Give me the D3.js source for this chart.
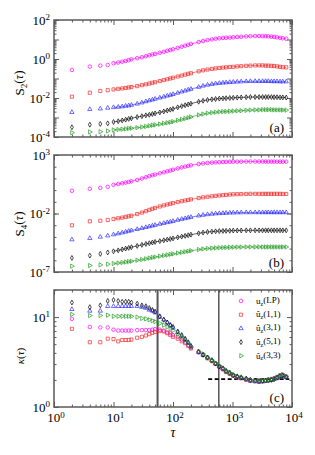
<!DOCTYPE html>
<html><head><meta charset="utf-8">
<script src="https://cdn.jsdelivr.net/npm/d3@7"></script>
<style>
body{margin:0;background:#fff}
svg{display:block}
text{font-family:"Liberation Serif","DejaVu Serif",serif;fill:#000}
</style>
</head><body>
<svg id="chart" width="315" height="455"></svg>
<script>
// ---------- data ----------
const tau = [2,4,6,8,10,12,14,16,18,20,25,30,35,40,45,50,60,70,80,90,100,120,140,160,180,200,
  270,320,380,450,520,600,690,780,900,1030,1200,1400,1700,2000,2400,2800,3200,3600,4000,4500,
  5000,5600,6300,7000,8000];

const seriesNames = ["LP","1,1","3,1","5,1","3,3"];
const seriesHat = [false,true,true,true,true];

// S2(tau)
const s2LP = [0.275,0.407,0.457,0.490,0.603,0.661,0.724,0.794,0.871,0.955,
  1.10,1.23,1.38,1.55,1.70,1.82,2.09,2.34,2.63,2.88,3.16,3.72,4.27,4.79,5.37,5.89,
  7.41,8.32,9.33,10.2,11.0,11.5,12.0,12.3,12.6,12.9,13.5,13.8,14.5,14.8,15.1,15.1,14.8,14.8,14.5,14.1,
  13.5,12.9,12.3,11.5,11.0];
const s2_11 = [0.0117,0.0186,0.0229,0.0251,0.0275,0.0295,0.0309,0.0331,0.0347,0.0363,
  0.0407,0.0457,0.0501,0.0550,0.0603,0.0646,0.0741,0.0832,0.0912,0.100,0.110,0.126,0.141,0.158,0.174,0.186,
  0.234,0.263,0.288,0.309,0.331,0.347,0.363,0.372,0.389,0.398,0.417,0.427,0.447,0.457,0.468,0.468,0.468,0.457,0.457,0.447,
  0.437,0.417,0.398,0.380,0.372];
const s2_31 = [0.00186,0.00263,0.00282,0.00309,0.00331,0.00347,0.00363,0.00389,0.00407,0.00437,
  0.00501,0.00575,0.00661,0.00741,0.00813,0.00891,0.0102,0.0115,0.0129,0.0141,0.0155,0.0182,0.0209,0.0234,0.0263,0.0288,
  0.0363,0.0417,0.0468,0.0513,0.0550,0.0575,0.0603,0.0617,0.0646,0.0661,0.0676,0.0692,0.0708,0.0724,0.0724,0.0724,0.0724,0.0724,0.0724,0.0708,
  0.0708,0.0708,0.0692,0.0692,0.0692];
const s2_51 = [3.16e-4,4.27e-4,4.68e-4,5.01e-4,5.89e-4,6.46e-4,7.08e-4,7.76e-4,8.51e-4,9.12e-4,
  1.05e-3,1.17e-3,1.29e-3,1.38e-3,1.51e-3,1.62e-3,1.82e-3,2.04e-3,2.29e-3,2.51e-3,2.75e-3,3.31e-3,3.80e-3,4.27e-3,4.68e-3,5.13e-3,
  6.46e-3,7.24e-3,7.94e-3,8.51e-3,8.91e-3,9.33e-3,9.55e-3,9.77e-3,1.00e-2,1.02e-2,1.05e-2,1.07e-2,1.10e-2,1.12e-2,1.12e-2,1.12e-2,1.12e-2,1.12e-2,1.12e-2,1.12e-2,
  1.10e-2,1.10e-2,1.07e-2,1.07e-2,1.05e-2];
const s2_33 = [1.66e-4,1.82e-4,1.86e-4,2.04e-4,2.29e-4,2.40e-4,2.51e-4,2.63e-4,2.75e-4,2.82e-4,
  3.02e-4,3.24e-4,3.47e-4,3.72e-4,3.98e-4,4.17e-4,4.57e-4,5.01e-4,5.37e-4,5.75e-4,6.17e-4,7.08e-4,7.94e-4,8.91e-4,9.77e-4,1.07e-3,
  1.35e-3,1.51e-3,1.66e-3,1.78e-3,1.86e-3,1.95e-3,2.00e-3,2.04e-3,2.09e-3,2.14e-3,2.19e-3,2.24e-3,2.34e-3,2.40e-3,2.45e-3,2.45e-3,2.51e-3,2.51e-3,2.51e-3,2.51e-3,
  2.45e-3,2.45e-3,2.45e-3,2.40e-3,2.40e-3];

// S4(tau)
const s4LP = [0.871,1.29,1.55,1.91,2.82,3.31,3.80,4.37,5.01,5.62,
  7.41,9.77,12.6,15.8,18.6,21.4,27.5,33.1,39.8,46.8,55.0,70.8,87.1,102,117,132,
  170,191,209,224,234,245,251,257,263,269,269,269,275,275,275,275,275,275,269,269,
  269,269,269,269,269];
const s4_11 = [9.77e-4,2.14e-3,2.40e-3,2.82e-3,3.39e-3,3.89e-3,4.47e-3,5.13e-3,5.75e-3,6.46e-3,
  8.91e-3,1.20e-2,1.58e-2,2.04e-2,2.51e-2,3.02e-2,3.98e-2,4.90e-2,5.89e-2,6.76e-2,7.76e-2,9.55e-2,0.112,0.129,0.145,0.162,
  0.209,0.240,0.269,0.295,0.324,0.347,0.372,0.389,0.417,0.437,0.447,0.457,0.468,0.479,0.479,0.479,0.479,0.479,0.479,0.479,
  0.479,0.479,0.479,0.468,0.468];
const s4_31 = [5.89e-5,7.59e-5,1.00e-4,1.26e-4,1.58e-4,1.91e-4,2.29e-4,2.69e-4,3.16e-4,3.55e-4,
  4.47e-4,5.50e-4,6.61e-4,7.76e-4,8.91e-4,1.02e-3,1.26e-3,1.48e-3,1.74e-3,1.95e-3,2.19e-3,2.75e-3,3.31e-3,3.80e-3,4.37e-3,4.90e-3,
  6.46e-3,7.41e-3,8.32e-3,9.12e-3,9.77e-3,1.02e-2,1.07e-2,1.10e-2,1.15e-2,1.17e-2,1.20e-2,1.20e-2,1.23e-2,1.23e-2,1.23e-2,1.23e-2,1.23e-2,1.23e-2,1.23e-2,1.23e-2,
  1.23e-2,1.23e-2,1.23e-2,1.23e-2,1.23e-2];
const s4_51 = [1.58e-6,2.51e-6,3.55e-6,4.68e-6,5.89e-6,7.08e-6,8.51e-6,1.00e-5,1.15e-5,1.32e-5,
  1.70e-5,2.09e-5,2.51e-5,2.88e-5,3.31e-5,3.72e-5,4.37e-5,5.13e-5,5.89e-5,6.61e-5,7.41e-5,9.12e-5,1.07e-4,1.23e-4,1.38e-4,1.55e-4,
  2.04e-4,2.34e-4,2.63e-4,2.82e-4,3.02e-4,3.16e-4,3.24e-4,3.31e-4,3.39e-4,3.47e-4,3.55e-4,3.55e-4,3.63e-4,3.63e-4,3.63e-4,3.63e-4,3.63e-4,3.63e-4,3.63e-4,3.63e-4,
  3.63e-4,3.63e-4,3.63e-4,3.63e-4,3.63e-4];
const s4_33 = [3.16e-7,3.55e-7,4.07e-7,4.68e-7,5.25e-7,5.89e-7,6.46e-7,7.08e-7,7.76e-7,8.32e-7,
  1.00e-6,1.17e-6,1.35e-6,1.55e-6,1.74e-6,1.91e-6,2.24e-6,2.57e-6,2.88e-6,3.24e-6,3.55e-6,4.17e-6,4.79e-6,5.37e-6,6.03e-6,6.61e-6,
  8.32e-6,9.33e-6,1.02e-5,1.10e-5,1.15e-5,1.20e-5,1.23e-5,1.26e-5,1.29e-5,1.32e-5,1.35e-5,1.35e-5,1.38e-5,1.38e-5,1.38e-5,1.38e-5,1.38e-5,1.38e-5,1.38e-5,1.38e-5,
  1.38e-5,1.38e-5,1.38e-5,1.38e-5,1.38e-5];

// kappa(tau)
const kLP = [9.55,7.76,7.67,7.67,7.24,7.08,7.08,7.08,7.08,7.08,
  7.16,7.16,7.16,7.16,7.24,7.33,7.24,7.08,6.76,6.61,6.31,6.03,5.62,5.25,4.90,4.57,
  4.07,3.80,3.55,3.24,3.02,2.82,2.63,2.51,2.34,2.24,2.14,2.09,2.04,1.97,1.95,1.93,1.95,1.97,2.00,2.04,
  2.09,2.14,2.24,2.29,2.19];
const k11 = [7.41,5.25,5.25,5.75,5.69,5.37,5.56,5.56,5.56,5.62,
  5.89,6.03,6.24,6.46,6.68,6.84,7.00,6.92,6.61,6.31,6.03,5.75,5.37,5.13,4.79,4.47,
  4.07,3.80,3.47,3.24,3.02,2.82,2.63,2.45,2.34,2.24,2.14,2.09,2.00,1.97,1.93,1.91,1.93,1.95,1.97,2.00,
  2.04,2.09,2.19,2.24,2.14];
const k31 = [12.2,11.7,11.7,13.2,13.2,13.2,13.2,13.2,13.2,13.2,
  13.2,12.9,12.6,12.0,11.7,11.2,10.0,9.33,8.71,8.13,7.59,6.76,6.17,5.62,5.13,4.68,
  4.07,3.80,3.55,3.31,3.02,2.82,2.69,2.51,2.40,2.24,2.19,2.09,2.04,1.95,1.93,1.91,1.93,1.95,1.97,2.00,
  2.04,2.09,2.19,2.24,2.14];
const k51 = [14.5,12.9,13.5,15.1,15.5,15.1,14.8,14.8,14.8,14.5,
  14.1,13.5,13.2,12.6,12.0,11.5,10.2,9.33,8.71,8.13,7.76,6.92,6.31,5.75,5.25,4.79,
  4.12,3.80,3.55,3.31,3.05,2.82,2.69,2.51,2.40,2.26,2.19,2.14,2.07,2.00,1.97,1.95,1.95,1.97,2.00,2.00,
  2.04,2.14,2.21,2.24,2.14];
const k33 = [10.7,10.4,10.4,10.5,10.2,10.2,10.2,10.2,10.2,10.2,
  10.0,9.66,9.55,9.33,9.12,8.91,8.51,8.13,7.76,7.41,7.08,6.46,6.03,5.50,5.13,4.68,
  4.12,3.89,3.55,3.31,3.09,2.88,2.69,2.51,2.40,2.29,2.19,2.14,2.04,2.00,1.95,1.95,1.97,1.95,2.00,2.04,
  2.04,2.14,2.24,2.29,2.19];

// reference lines in panel (c)
const vLineTau = [55, 590];
const plateauKappa = 2.04;
const plateauTau = [390, 9000];

// tick labels (exponents of 10)
const xTickExp = [0,1,2,3,4];
const yTickExpA = [2,0,-2,-4];
const yTickExpB = [3,-2,-7];
const yTickExpC = [0,1];

// ---------- styles ----------
const colors = ["#ff00ff","#f22a2a","#2f2fff","#000000","#239c23"];
const symbols = [d3.symbolCircle, d3.symbolSquare, d3.symbolTriangle, d3.symbolDiamond, d3.symbolTriangle];
const symSize = [10, 10, 8, 7, 8];
const symRot = [0,0,0,0,90];
const frameColor = "#5a5a5a";

const svg = d3.select("#chart");
const X0 = 54, X1 = 292;
const x = d3.scaleLog().domain([1,1e4]).range([X0,X1]);

function decadeMinors(lo, hi){
  const out=[];
  for(let e=lo;e<hi;e++) for(let k=2;k<=9;k++) out.push(k*Math.pow(10,e));
  return out;
}
function decades(lo,hi){const o=[];for(let e=lo;e<=hi;e++)o.push(Math.pow(10,e));return o;}

function sup(sel, base, exp, fs){
  sel.append("tspan").text(base);
  sel.append("tspan").attr("dy","-0.5em").attr("font-size",fs).text(exp);
}

const panels = [
  {top:20, bottom:137, domain:[1e-4,1e2], data:[s2LP,s2_11,s2_31,s2_51,s2_33], lines:true,
   major:decades(-4,2), minor:decadeMinors(-4,2), labels:yTickExpA, tag:"(a)", sub:"2", ytitleY:83},
  {top:155, bottom:272, domain:[1e-7,1e3], data:[s4LP,s4_11,s4_31,s4_51,s4_33], lines:true,
   major:yTickExpB.map(e=>Math.pow(10,e)), minor:decades(-7,3), labels:yTickExpB, tag:"(b)", sub:"4", ytitleY:224},
  {top:290, bottom:407, domain:[1,20], data:[kLP,k11,k31,k51,k33], lines:false,
   major:[1,10], minor:[2,3,4,5,6,7,8,9,20], labels:yTickExpC, tag:"(c)", sub:null, ytitleY:356}
];

panels.forEach((p,pi)=>{
  const y = d3.scaleLog().domain(p.domain).range([p.bottom,p.top]);
  const g = svg.append("g");

  const xt = (axisFn, vals, len, ty) => {
    const a = g.append("g").attr("transform",`translate(0,${ty})`)
      .call(axisFn(x).tickValues(vals).tickSize(-len).tickFormat(""));
    a.select(".domain").remove();
    a.selectAll("line").attr("stroke",frameColor).attr("stroke-width",1);
  };
  xt(d3.axisBottom, decades(0,4), 5, p.bottom);
  xt(d3.axisBottom, decadeMinors(0,4), 2.5, p.bottom);
  xt(d3.axisTop, decades(0,4), 5, p.top);
  xt(d3.axisTop, decadeMinors(0,4), 2.5, p.top);

  const yt = (axisFn, vals, len, tx) => {
    const a = g.append("g").attr("transform",`translate(${tx},0)`)
      .call(axisFn(y).tickValues(vals).tickSize(-len).tickFormat(""));
    a.select(".domain").remove();
    a.selectAll("line").attr("stroke",frameColor).attr("stroke-width",1);
  };
  yt(d3.axisLeft, p.major, 5, X0);
  yt(d3.axisLeft, p.minor, 2.5, X0);
  yt(d3.axisRight, p.major, 5, X1);
  yt(d3.axisRight, p.minor, 2.5, X1);

  if(pi===2){
    g.selectAll("line.vl").data(vLineTau).enter().append("line")
      .attr("x1",d=>x(d)).attr("x2",d=>x(d)).attr("y1",p.top).attr("y2",p.bottom)
      .attr("stroke",(d,i)=>i===0?"#555":"#000").attr("stroke-width",(d,i)=>i===0?2:1);
    g.append("line").attr("x1",x(plateauTau[0])).attr("x2",x(plateauTau[1]))
      .attr("y1",y(plateauKappa)).attr("y2",y(plateauKappa))
      .attr("stroke","#000").attr("stroke-width",1.6).attr("stroke-dasharray","4,2.5");
  }

  p.data.forEach((vals,si)=>{
    const pts = tau.map((t,i)=>[t,vals[i]]);
    if(p.lines){
      g.append("path").datum(pts.filter(d=>d[0]>=10))
        .attr("fill","none").attr("stroke",colors[si]).attr("stroke-width",0.6)
        .attr("d",d3.line().x(d=>x(d[0])).y(d=>y(d[1])));
    }
    const sym = d3.symbol().type(symbols[si]).size(symSize[si]);
    g.selectAll(null).data(pts).enter().append("path")
      .attr("d",sym)
      .attr("transform",d=>`translate(${x(d[0])},${y(d[1])}) rotate(${symRot[si]})`)
      .attr("fill","none").attr("stroke",colors[si]).attr("stroke-width",0.7);
  });

  g.append("rect").attr("x",X0).attr("y",p.top).attr("width",X1-X0).attr("height",p.bottom-p.top)
    .attr("fill","none").attr("stroke",frameColor).attr("stroke-width",1.5);

  p.labels.forEach(e=>{
    const t = g.append("text").attr("x",X0-4).attr("y",y(Math.pow(10,e))).attr("dy","0.36em")
      .attr("text-anchor","end").attr("font-size",13);
    sup(t,"10",String(e),9);
  });

  g.append("text").attr("x",284).attr("y",p.bottom-5).attr("text-anchor","end")
    .attr("font-size",13).text(p.tag);

  const yt2 = g.append("text").attr("transform",`translate(24,${p.ytitleY}) rotate(-90)`)
    .attr("text-anchor","middle").attr("font-size",p.sub?13:11);
  if(p.sub){
    yt2.append("tspan").text("S");
    yt2.append("tspan").attr("dy","0.3em").attr("font-size",9).text(p.sub);
    yt2.append("tspan").attr("dy","-0.3em").text("(");
  } else {
    yt2.append("tspan").attr("font-style","italic").text("κ");
    yt2.append("tspan").text("(");
  }
  yt2.append("tspan").attr("font-style","italic").text("τ");
  yt2.append("tspan").text(")");

  if(pi===2){
    xTickExp.forEach(e=>{
      const t = g.append("text").attr("x",x(Math.pow(10,e))+2).attr("y",p.bottom+15)
        .attr("text-anchor","middle").attr("font-size",13);
      sup(t,"10",String(e),9);
    });
    g.append("text").attr("x",x(100)).attr("y",p.bottom+30).attr("text-anchor","middle")
      .attr("font-size",14).attr("font-style","italic").text("τ");

    const lg = g.append("g");
    seriesNames.forEach((nm,si)=>{
      const ly = 301 + si*13.7;
      lg.append("path").attr("d",d3.symbol().type(symbols[si]).size(symSize[si]))
        .attr("transform",`translate(241,${ly}) rotate(${symRot[si]})`)
        .attr("fill","none").attr("stroke",colors[si]).attr("stroke-width",0.7);
      const t = lg.append("text").attr("x",256).attr("y",ly).attr("dy","0.3em").attr("font-size",9);
      t.append("tspan").text(seriesHat[si]?"û":"u");
      t.append("tspan").attr("dy","0.3em").attr("font-size",6).text("z");
      t.append("tspan").attr("dy","-0.3em").text("("+nm+")");
    });
  }
});
</script>
</body></html>
